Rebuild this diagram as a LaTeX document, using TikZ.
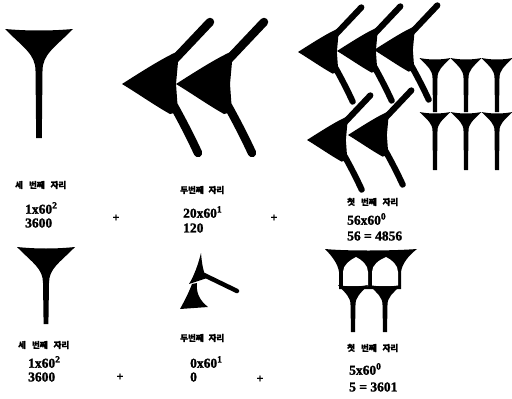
\documentclass[tikz,border=0pt]{standalone}
\usepackage{fontspec}
\setmainfont{Liberation Serif}[BoldFeatures={FakeBold=1.5}]
\newfontfamily\kr{Noto Sans CJK KR}[BoldFeatures={FakeBold=1}]
% vertical wedge: cx, top y, half width, head depth, stem length, stem width
\newcommand\vwedge[6]{%
 \fill ({#1-#3},#2) .. controls ({#1-#3/3},{#2+2}) and ({#1+#3/3},{#2+2}) .. ({#1+#3},#2)
   .. controls ({#1+#3*0.45},{#2+#4*0.45}) and ({#1+#6/2},{#2+#4*0.6}) .. ({#1+#6/2},{#2+#4})
   -- ({#1+#6*0.4},{#2+#4+#5}) -- ({#1-#6*0.4},{#2+#4+#5}) -- ({#1-#6/2},{#2+#4})
   .. controls ({#1-#6/2},{#2+#4*0.6}) and ({#1-#3*0.45},{#2+#4*0.45}) .. ({#1-#3},#2) -- cycle;}
% chevron (Winkelhaken): tip x, tip y, scale
\newcommand\chev[3]{%
 \begin{scope}[shift={(#1,#2)},scale=#3]
 \fill (0,0) .. controls (22,-14) and (44,-28) .. (59,-34) -- (56,-22) -- (54,0) -- (56,28)
  -- (48,30) .. controls (32,21) and (15,9) .. (0,0) -- cycle;
 \draw[line width={8.5*#3}, line cap=round] (53,-25) -- (88,-62);
 \draw[line width={8.5*#3}, line cap=round] (52,22) .. controls (62,40) and (70,56) .. (76,69);
 \end{scope}}
\tikzset{
 lab/.style={anchor=west,inner sep=0pt,font=\kr\bfseries\fontsize{8.5}{9}\selectfont},
 num/.style={anchor=west,inner sep=0pt,font=\bfseries\fontsize{13.5}{13.5}\selectfont},
 plus/.style={inner sep=0pt,font=\bfseries\fontsize{12}{12}\selectfont}
}
\begin{document}
\begin{tikzpicture}[x=1pt,y=-1pt]
\clip (0,0) rectangle (512,399);
\fill[white] (0,0) rectangle (512,399);
% ---- top row signs
\vwedge{39}{29}{34}{42}{67}{7}
\chev{122}{84}{1}
\chev{176}{84}{1}
\chev{298}{52}{0.72}
\chev{337}{51}{0.72}
\chev{374}{50}{0.72}
\chev{307}{140}{0.72}
\chev{348}{135}{0.72}
\vwedge{435}{58}{15.5}{20}{34}{5}
\vwedge{466}{58}{15.5}{20}{34}{5}
\vwedge{497}{58}{15.5}{20}{34}{5}
\vwedge{435}{112}{15.5}{19}{39}{5}
\vwedge{466}{112}{15.5}{19}{39}{5}
\vwedge{497}{112}{15.5}{19}{39}{5}
% ---- bottom row signs
\vwedge{46}{247}{29}{36}{41}{6}
\fill (201,253) .. controls (198,265) and (194,276) .. (189,284) -- (207,278)
  .. controls (203,272) and (202,264) .. (201,253) -- cycle;
\draw[line width=4.5, line cap=round] (204,275) -- (237,291);
\fill (192,284) -- (197,283) .. controls (196,292) and (199,300) .. (208,307) -- (180,309)
  .. controls (185,300) and (189,292) .. (192,284) -- cycle;
\fill (325,249) .. controls (345,251) and (390,251) .. (417,249)
  .. controls (408,256) and (402,264) .. (401,272) -- (401,289) -- (339,289) -- (339,272)
  .. controls (338,264) and (332,256) .. (325,249) -- cycle;
\fill[white] (343,286) -- (343,272) .. controls (343,265) and (350,260) .. (356,257)
  .. controls (362,260) and (368,265) .. (368,272) -- (368,286) -- cycle;
\fill[white] (372,286) -- (372,272) .. controls (372,265) and (379,260) .. (386,257)
  .. controls (392,260) and (398,265) .. (398,272) -- (398,286) -- cycle;
\vwedge{353}{285}{15}{20}{27}{5}
\vwedge{385}{285}{16}{20}{27}{5}
% ---- top row labels
\node[lab] (t1) at (15,185) {세\hspace{6pt}번째\hspace{6pt}자리};
\node[num] (t1a) at (25,208) {1x60\textsuperscript{2}};
\node[num] (t1b) at (25,223) {3600};
\node[plus] (tp1) at (116,218) {+};
\node[lab] (t2) at (180,190) {두번째\hspace{5pt}자리};
\node[num] (t2a) at (183,212) {20x60\textsuperscript{1}};
\node[num] (t2b) at (183,228) {120};
\node[plus] (tp2) at (274,218) {+};
\node[lab] (t3) at (347,202) {첫\hspace{6pt}번째\hspace{6pt}자리};
\node[num] (t3a) at (347,219) {56x60\textsuperscript{0}};
\node[num] (t3b) at (347,236) {56 = 4856};
% ---- bottom row labels
\node[lab] (b1) at (18,345) {세\hspace{6pt}번째\hspace{6pt}자리};
\node[num] (b1a) at (28,362) {1x60\textsuperscript{2}};
\node[num] (b1b) at (28,377) {3600};
\node[plus] (bp1) at (120,377) {+};
\node[lab] (b2) at (180,338) {두번째\hspace{5pt}자리};
\node[num] (b2a) at (190,362) {0x60\textsuperscript{1}};
\node[num] (b2b) at (190,377) {0};
\node[plus] (bp2) at (260,379) {+};
\node[lab] (b3) at (347,348) {첫\hspace{6pt}번째\hspace{6pt}자리};
\node[num] (b3a) at (349,369) {5x60\textsuperscript{0}};
\node[num] (b3b) at (349,387) {5 = 3601};
\end{tikzpicture}
\end{document}
